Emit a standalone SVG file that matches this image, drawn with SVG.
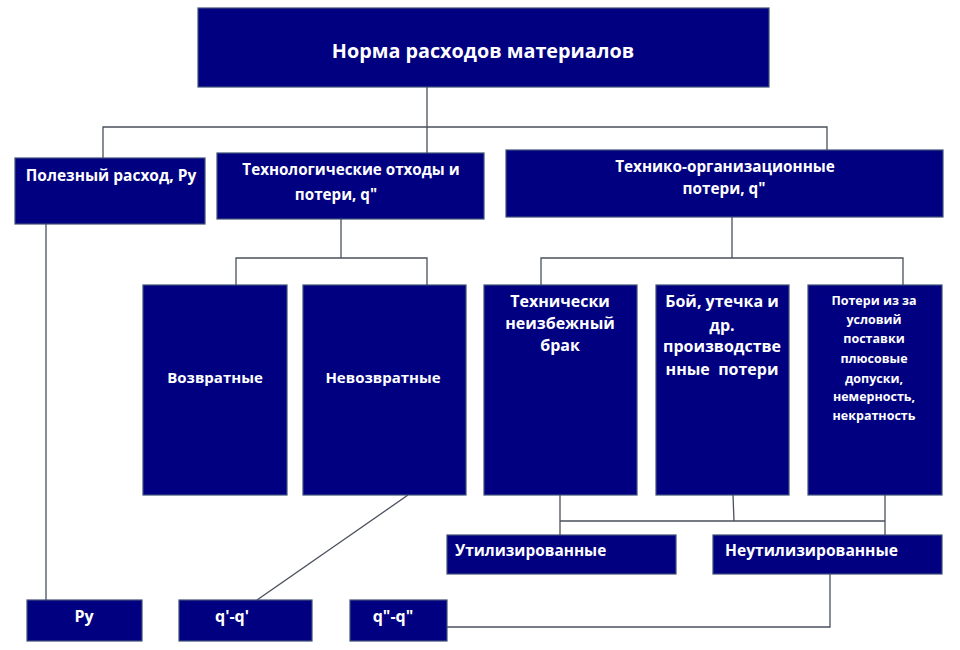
<svg xmlns="http://www.w3.org/2000/svg" width="960" height="650" viewBox="0 0 960 650">
<style>
.box{fill:#000080;stroke:#3f4f78;stroke-width:1.2}
.t{fill:#ffffff;font-family:"Open Sans","Liberation Sans",sans-serif;font-weight:bold;text-anchor:middle;white-space:pre}
.l{fill:none;stroke:#4a505c;stroke-width:1.3}
</style>
<rect width="960" height="650" fill="#ffffff"/>
<g id="connectors">
<path class="l" d="M427,87 V153 M103,158 V127 H827 V150"/>
<path class="l" d="M341,219 V258 M236,285 V258 H427 V285"/>
<path class="l" d="M732,217 V258 M541,285 V258 H903 V285"/>
<path class="l" d="M46,224 V600"/>
<path class="l" d="M408,495 L257,600"/>
<path class="l" d="M560,495 V535 M733,495 L734,521 M885,495 V535 M560,521 H885"/>
<path class="l" d="M830,574 V627 H447"/>
</g>
<g id="n-root"><rect class="box" x="198" y="8" width="571" height="79"/><text class="t" x="483" y="58" font-size="19.8">Норма расходов материалов</text></g>
<g id="n-useful"><rect class="box" x="15" y="158" width="190" height="66"/><text class="t" x="111" y="181" font-size="15.5">Полезный расход, Ру</text></g>
<g id="n-tech"><rect class="box" x="217" y="153" width="267" height="66"/><text class="t" font-size="15.2"><tspan x="351" y="175">Технологические отходы и</tspan><tspan x="336" y="200">потери, q"</tspan></text></g>
<g id="n-org"><rect class="box" x="506" y="150" width="437" height="67"/><text class="t" font-size="15.3"><tspan x="725" y="172">Технико-организационные</tspan><tspan x="724" y="194">потери, q"</tspan></text></g>
<g id="n-return"><rect class="box" x="143" y="285" width="144" height="210"/><text class="t" x="215" y="383" font-size="15">Возвратные</text></g>
<g id="n-noreturn"><rect class="box" x="303" y="285" width="163" height="210"/><text class="t" x="383" y="383" font-size="15">Невозвратные</text></g>
<g id="n-defect"><rect class="box" x="484" y="285" width="153" height="210"/><text class="t" font-size="16"><tspan x="560" y="307">Технически</tspan><tspan x="560" y="329">неизбежный</tspan><tspan x="560" y="351">брак</tspan></text></g>
<g id="n-loss"><rect class="box" x="656" y="285" width="133" height="210"/><text class="t" font-size="16"><tspan x="722" y="307">Бой, утечка и</tspan><tspan x="722" y="331">др.</tspan><tspan x="722" y="352">производстве</tspan><tspan x="722" y="375">нные  потери</tspan></text></g>
<g id="n-supply"><rect class="box" x="808" y="285" width="134" height="210"/><text class="t" font-size="12.5"><tspan x="874" y="305">Потери из за</tspan><tspan x="874" y="324">условий</tspan><tspan x="874" y="343">поставки</tspan><tspan x="874" y="363">плюсовые</tspan><tspan x="874" y="383">допуски,</tspan><tspan x="874" y="401">немерность,</tspan><tspan x="874" y="420">некратность</tspan></text></g>
<g id="n-util"><rect class="box" x="447" y="535" width="229" height="39"/><text class="t" x="455" y="556" font-size="15.4" style="text-anchor:start">Утилизированные</text></g>
<g id="n-noutil"><rect class="box" x="713" y="535" width="229" height="39"/><text class="t" x="725" y="556" font-size="15.6" style="text-anchor:start">Неутилизированные</text></g>
<g id="n-py"><rect class="box" x="27" y="600" width="115" height="41"/><text class="t" x="84" y="622" font-size="16">Ру</text></g>
<g id="n-q1"><rect class="box" x="179" y="600" width="133" height="41"/><text class="t" x="232" y="622" font-size="16">q'-q'</text></g>
<g id="n-q2"><rect class="box" x="350" y="600" width="97" height="41"/><text class="t" x="393" y="622" font-size="16">q"-q"</text></g>
</svg>
